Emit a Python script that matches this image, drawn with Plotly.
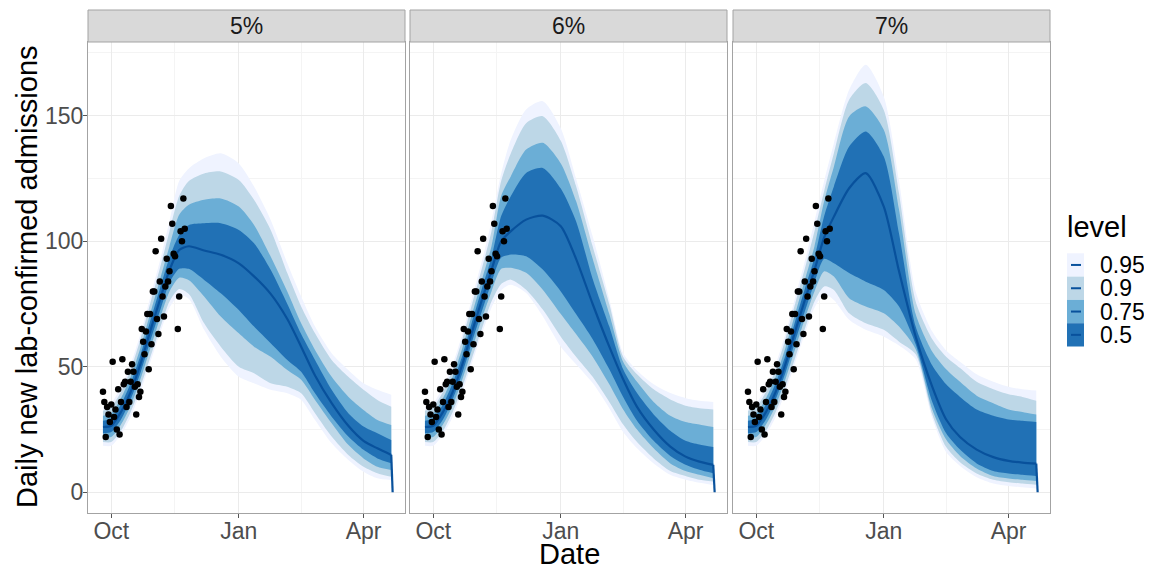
import pandas as pd
import plotly.graph_objects as go

# ---------------- data ----------------
obs_dates = pd.date_range("2020-09-25", "2020-11-23", freq="D").strftime("%Y-%m-%d").tolist()
obs_values = [40, 36, 22, 34, 31, 28, 35, 52, 30, 33, 25, 41, 23, 36, 53, 43, 44, 34, 48, 36,
              44, 51, 48, 42, 31, 43, 38, 40, 65, 60, 55, 64, 71, 49, 71, 59, 80, 80, 96, 69,
              63, 84, 101, 78, 70, 82, 93, 84, 88, 114, 107, 95, 94, None, 65, 78, 104, 100, 117, 105]

band_dates = ["2020-09-25", "2020-10-01", "2020-10-08", "2020-10-15", "2020-10-22", "2020-10-29",
              "2020-11-05", "2020-11-12", "2020-11-19", "2020-11-26", "2020-12-07", "2020-12-19",
              "2021-01-01", "2021-01-12", "2021-01-24", "2021-02-05", "2021-02-15", "2021-02-25",
              "2021-03-09", "2021-03-21", "2021-04-01", "2021-04-11", "2021-04-21"]
end_date = "2021-04-22"
end_value = 0

# common rising part (Sep 25 .. Nov 12)
rise_med = [26, 26.5, 32, 40, 51, 64, 76.5, 88.5]
rise_lo50 = [23.5, 24, 29, 37, 47.5, 60, 72, 83.5]
rise_hi50 = [28.5, 29.5, 35, 43.5, 54.5, 68, 81, 93.5]
rise_lo75 = [22, 22, 27, 34.5, 45, 57, 69, 80]
rise_hi75 = [30.5, 31.5, 37.5, 46, 57.5, 71, 84.5, 98]
rise_lo90 = [20, 20, 24.5, 32, 42, 53.5, 65, 76]
rise_hi90 = [32.5, 34, 40, 49, 61, 75, 89, 104]
rise_lo95 = [18.5, 18.5, 23, 30, 40, 51.5, 63, 73.5]
rise_hi95 = [34, 35.5, 42, 51, 63, 77.5, 92, 108]

# 5%
p5_med = [96.5, 98, 96.3, 94.6, 91.2, 86, 79, 69, 58, 46.5, 35.5, 26.5, 20.5, 17.5, 14.9]
p5_lo50 = [89, 89, 84.6, 79.3, 72.6, 66, 59.4, 52.7, 48, 39.4, 30.1, 22.2, 16.9, 13.5, 11.6]
p5_hi50 = [102.5, 106.5, 107.2, 107.2, 104.5, 99.2, 88.6, 75, 63, 52.7, 40.8, 31.5, 26.2, 23.5, 20.8]
p5_lo75 = [85.5, 84.5, 78, 70, 63.3, 58, 54, 48.7, 44.8, 36.8, 27.5, 18.9, 13.5, 10.2, 8.9]
p5_hi75 = [110.5, 114.5, 116.5, 117, 113.8, 106.5, 93.9, 80, 67.3, 56.7, 46, 38.1, 32.8, 28.8, 26.8]
p5_lo90 = [81, 79, 67.3, 58, 50, 47.4, 43.4, 42, 39.4, 31.5, 22.2, 14.9, 10.2, 7.6, 6.2]
p5_hi90 = [118, 124, 127, 127.8, 124.4, 116.5, 104.5, 87.3, 74, 63.3, 52.7, 46, 40.8, 36.8, 34.1]
p5_lo95 = [78.5, 77, 64.7, 54, 46, 43.4, 40.8, 39.4, 36.8, 28.8, 19.5, 12.9, 8.2, 5.6, 4.9]
p5_hi95 = [124, 129, 133, 135, 131, 121.8, 108.5, 91.2, 78, 66, 55.4, 48.7, 43.4, 40.8, 38.8]

# 6%
p6_med = [100, 104, 108.6, 110.2, 106, 93, 75, 58, 45, 34, 25, 18.2, 14.2, 12.2, 10.9]
p6_lo50 = [93.5, 94.7, 94, 88.7, 80, 71, 61, 49, 38, 28.5, 20.5, 14.5, 11, 9, 7.6]
p6_hi50 = [110, 118, 127.2, 129.2, 121, 108, 85, 66, 49, 39.5, 31, 24.5, 20.5, 19, 18]
p6_lo75 = [89, 89.4, 87.4, 80.7, 71, 63, 54, 43, 33, 25, 17.5, 11.5, 8.5, 7, 5.6]
p6_hi75 = [118, 125.9, 136.5, 139.2, 131, 116, 93, 71, 52, 44, 36, 30.5, 28, 27, 26]
p6_lo90 = [83, 84.7, 80.7, 72.8, 62, 54, 46, 36, 27, 20, 13.5, 8.5, 6.5, 5, 4.3]
p6_hi90 = [124, 135, 147, 149.8, 140, 122, 98, 75, 54, 47, 41, 37, 34.5, 33.5, 33]
p6_lo95 = [80.5, 82.7, 79.4, 70.1, 58, 51, 43.5, 33.5, 24, 17.5, 11.5, 7, 5, 3.8, 2.9]
p6_hi95 = [127, 140.5, 152.5, 155.8, 145, 125, 102, 77, 55.5, 48.5, 43, 39.5, 37.5, 36.5, 36]

# 7%
p7_med = [101.5, 109.8, 121.1, 127.1, 113.8, 88, 62, 42, 29, 22, 17, 14, 12.5, 11.8, 11.4]
p7_lo50 = [93, 91.2, 87.3, 83.9, 80.6, 74, 59, 36, 23.5, 17, 11.5, 8.5, 7.5, 7, 6.5]
p7_hi50 = [110, 121.8, 137.7, 143.7, 133.7, 103, 66, 50.5, 43, 38, 33, 30.5, 29, 28.5, 28]
p7_lo75 = [88, 85.9, 77.3, 74, 71.3, 66, 57, 33, 21, 14.5, 9.5, 6.5, 5.5, 5, 4.5]
p7_hi75 = [116, 129.7, 149.7, 153.7, 144.4, 112.5, 71, 56, 49, 44, 38.5, 35.5, 33, 32, 31]
p7_lo90 = [82, 80.6, 71.3, 67.3, 64.7, 60, 55, 31, 18, 12, 7.5, 5, 4, 3.5, 3]
p7_hi90 = [120, 135, 156.3, 163, 152.3, 119, 76, 61, 54, 49.5, 44, 41, 39, 38, 36.5]
p7_lo95 = [79, 76.6, 68.7, 64.7, 62, 58.5, 53, 29.5, 16, 10.5, 6, 3.5, 2.5, 2, 1.5]
p7_hi95 = [124, 139, 160.3, 170.3, 157.6, 124, 80, 64, 56.5, 52, 47, 44, 42, 41, 40.5]

panel_labels = ["5%", "6%", "7%"]
levels = ["0.95", "0.9", "0.75", "0.5"]
x_tick_vals = ["2020-10-01", "2021-01-01", "2021-04-01"]
x_tick_text = ["Oct", "Jan", "Apr"]
x_minor_vals = ["2020-11-15 12:00", "2021-02-15 12:00"]
y_tick_vals = [0, 50, 100, 150]
y_minor_vals = [25, 75, 125, 175]

# ---------------- style ----------------
band_colors = {"0.95": "#EFF3FF", "0.9": "#BDD7E7", "0.75": "#6BAED6", "0.5": "#2171B5"}
median_color = "#08519C"
FONT = "Liberation Sans, Arial, sans-serif"
BORDER = "#a3a3a3"
GRID = "#ebebeb"
GRID_MINOR = "#f4f4f4"

# the page body adds an 8px offset; the figure is sized so the screen matches
OFF = 8
SCR_L, SCR_T, SCR_R, SCR_B = 88, 42, 1050, 513      # plot area on screen
W, H = 1152 - OFF, 572 - OFF
L, T = SCR_L - OFF, SCR_T - OFF
R, B = W - (SCR_R - OFF), H - (SCR_B - OFF)
PW, PH = SCR_R - SCR_L, SCR_B - SCR_T


def px_x(px):
    return (px - SCR_L) / PW


def px_y(py):
    return (SCR_B - py) / PH


panels = []
for med, lo50, hi50, lo75, hi75, lo90, hi90, lo95, hi95 in [
    (p5_med, p5_lo50, p5_hi50, p5_lo75, p5_hi75, p5_lo90, p5_hi90, p5_lo95, p5_hi95),
    (p6_med, p6_lo50, p6_hi50, p6_lo75, p6_hi75, p6_lo90, p6_hi90, p6_lo95, p6_hi95),
    (p7_med, p7_lo50, p7_hi50, p7_lo75, p7_hi75, p7_lo90, p7_hi90, p7_lo95, p7_hi95),
]:
    panels.append({
        "med": rise_med + med,
        "0.5": (rise_lo50 + lo50, rise_hi50 + hi50),
        "0.75": (rise_lo75 + lo75, rise_hi75 + hi75),
        "0.9": (rise_lo90 + lo90, rise_hi90 + hi90),
        "0.95": (rise_lo95 + lo95, rise_hi95 + hi95),
    })

domains = [(0, px_x(405)), (px_x(410), px_x(727)), (px_x(733), 1.0)]
SMOOTH = 0.7

fig = go.Figure()
for i, p in enumerate(panels):
    xa = "x" if i == 0 else f"x{i + 1}"
    ya = "y" if i == 0 else f"y{i + 1}"
    for lev in levels:
        lo, hi = p[lev]
        fig.add_trace(go.Scatter(
            x=band_dates, y=lo, mode="lines",
            line=dict(width=0, color=band_colors[lev], shape="spline", smoothing=SMOOTH),
            xaxis=xa, yaxis=ya, showlegend=False, hoverinfo="skip"))
        fig.add_trace(go.Scatter(
            x=band_dates, y=hi, mode="lines", fill="tonexty", fillcolor=band_colors[lev],
            line=dict(width=0, color=band_colors[lev], shape="spline", smoothing=SMOOTH),
            xaxis=xa, yaxis=ya, showlegend=False, hoverinfo="skip"))
    fig.add_trace(go.Scatter(
        x=band_dates, y=p["med"], mode="lines",
        line=dict(color=median_color, width=2.2, shape="spline", smoothing=SMOOTH),
        xaxis=xa, yaxis=ya, showlegend=False))
    fig.add_trace(go.Scatter(
        x=[band_dates[-1], end_date], y=[p["med"][-1], end_value], mode="lines",
        line=dict(color=median_color, width=2.2), xaxis=xa, yaxis=ya, showlegend=False))
    fig.add_trace(go.Scatter(
        x=obs_dates, y=obs_values, mode="markers",
        marker=dict(color="black", size=6.5), xaxis=xa, yaxis=ya, showlegend=False))

common_x = dict(
    type="date", range=["2020-09-14 05:00", "2021-04-30 22:00"],
    tickmode="array", tickvals=x_tick_vals, ticktext=x_tick_text,
    showgrid=True, gridcolor=GRID, gridwidth=1,
    minor=dict(tickmode="array", tickvals=x_minor_vals, showgrid=True,
               gridcolor=GRID_MINOR, gridwidth=1, ticks=""),
    showline=True, mirror=True, linecolor=BORDER, linewidth=1,
    ticks="outside", ticklen=4, tickcolor="#555555", tickwidth=1,
    ticklabelstandoff=-7,
    tickfont=dict(family=FONT, size=23, color="#4d4d4d"),
    zeroline=False, fixedrange=True,
)
common_y = dict(
    range=[-8.25, 179.35], tickmode="array", tickvals=y_tick_vals,
    showgrid=True, gridcolor=GRID, gridwidth=1,
    minor=dict(tickmode="array", tickvals=y_minor_vals, showgrid=True,
               gridcolor=GRID_MINOR, gridwidth=1, ticks=""),
    showline=True, mirror=True, linecolor=BORDER, linewidth=1,
    zeroline=False, fixedrange=True,
    tickfont=dict(family=FONT, size=23, color="#4d4d4d"),
)

layout = dict(
    width=W, height=H, margin=dict(l=L, r=R, t=T, b=B, autoexpand=False),
    paper_bgcolor="white", plot_bgcolor="white",
    font=dict(family=FONT, color="black"), showlegend=False,
)
for i in range(3):
    xk = "xaxis" if i == 0 else f"xaxis{i + 1}"
    yk = "yaxis" if i == 0 else f"yaxis{i + 1}"
    layout[xk] = dict(common_x, domain=list(domains[i]), anchor="y" if i == 0 else f"y{i + 1}")
    ydict = dict(common_y, anchor="x" if i == 0 else f"x{i + 1}", domain=[0, 1])
    if i == 0:
        ydict.update(ticks="outside", ticklen=4, tickcolor="#555555", showticklabels=True,
                     ticklabelstandoff=-5)
    else:
        ydict.update(ticks="", showticklabels=False, matches="y")
    layout[yk] = ydict
fig.update_layout(**layout)

shapes = []
annotations = []
strip_h = 32 / PH
for i, (d0, d1) in enumerate(domains):
    shapes.append(dict(type="rect", xref="paper", yref="paper", x0=d0, x1=d1, y0=1.0, y1=1.0 + strip_h,
                       fillcolor="#d9d9d9", line=dict(color=BORDER, width=1), layer="above"))
    annotations.append(dict(text=panel_labels[i], xref="paper", yref="paper", x=(d0 + d1) / 2,
                            y=1.0 + strip_h / 2, showarrow=False, xanchor="center", yanchor="middle",
                            font=dict(family=FONT, size=23, color="#1a1a1a")))

# axis titles
annotations.append(dict(text="Date", xref="paper", yref="paper", x=0.5, y=px_y(554),
                        showarrow=False, xanchor="center", yanchor="middle",
                        font=dict(family=FONT, size=29, color="black")))
annotations.append(dict(text="Daily new lab-confirmed admissions", xref="paper", yref="paper",
                        x=px_x(27), y=px_y(277), textangle=-90, showarrow=False,
                        xanchor="center", yanchor="middle",
                        font=dict(family=FONT, size=29, color="black")))

# legend
annotations.append(dict(text="level", xref="paper", yref="paper", x=px_x(1065), y=px_y(227),
                        showarrow=False, xanchor="left", yanchor="middle",
                        font=dict(family=FONT, size=29, color="black")))
key_edges = [253.3, 276.6, 299.9, 323.2, 346.5]
for j, lev in enumerate(levels):
    top, bot = key_edges[j], key_edges[j + 1]
    shapes.append(dict(type="rect", xref="paper", yref="paper", x0=px_x(1067), x1=px_x(1084),
                       y0=px_y(bot), y1=px_y(top), fillcolor=band_colors[lev], line=dict(width=0)))
    mid = (top + bot) / 2
    shapes.append(dict(type="line", xref="paper", yref="paper", x0=px_x(1071), x1=px_x(1081),
                       y0=px_y(mid), y1=px_y(mid), line=dict(color=median_color, width=2)))
    annotations.append(dict(text=lev, xref="paper", yref="paper", x=px_x(1098), y=px_y(mid),
                            showarrow=False, xanchor="left", yanchor="middle",
                            font=dict(family=FONT, size=23, color="black")))

fig.update_layout(shapes=shapes, annotations=annotations)
fig.write_html("out.html")
